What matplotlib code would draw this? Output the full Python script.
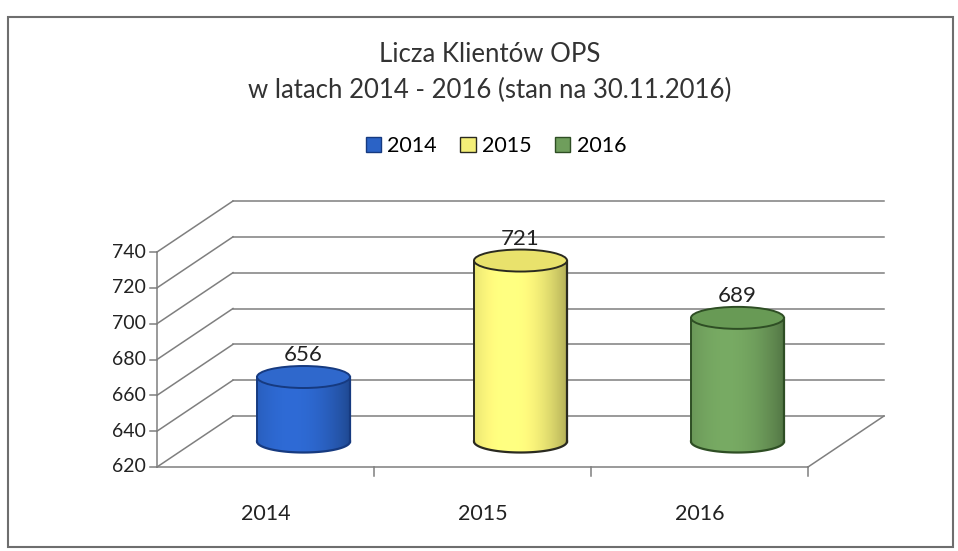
import numpy as np
import matplotlib
matplotlib.use("Agg")
import matplotlib.pyplot as plt
from matplotlib.patches import Ellipse, Patch, Rectangle, PathPatch
from matplotlib.path import Path

plt.rcParams['font.family'] = ['Lato', 'DejaVu Sans']

# dane
lata = ["2014", "2015", "2016"]
klienci = [656, 721, 689]
kolory = ["#2b63c6", "#f4ef78", "#6f9e5c"]
krawedzie = ["#163a80", "#2a2a20", "#2e4e24"]
gora = ["#2f68cc", "#e9e26c", "#689a55"]
y_ticks = [620, 640, 660, 680, 700, 720, 740]
tytul = ["Licza Klientów OPS", "w latach 2014 - 2016 (stan na 30.11.2016)"]

W, H = 958, 551
fig = plt.figure(figsize=(W / 100, H / 100), dpi=100)
ax = fig.add_axes([0, 0, 1, 1])
ax.axis("off")

# front plane in pixels -> data scale
px_cat = (808 - 157) / 3
px_val = (467 - 252) / 120
ax.set_xlim(-157 / px_cat, (W - 157) / px_cat)
ax.set_ylim(620 - (H - 467) / px_val, 620 + 467 / px_val)

DX = 76 / px_cat   # depth offset
DY = 51 / px_val
n = len(lata)
ymin = y_ticks[0]
grid = "#7f7f7f"

# siatka: ukosne linie i tylna sciana
for v in y_ticks:
    ax.plot([0, DX], [v, v + DY], color=grid, lw=1.1)
    ax.plot([DX, n + DX], [v + DY, v + DY], color=grid, lw=1.1)
    ax.plot([-0.03, 0], [v, v], color=grid, lw=1.1)
    ax.text(-0.05, v, str(v), ha="right", va="center", fontsize=14, color="#222222")
ax.plot([0, 0], [ymin, y_ticks[-1]], color=grid, lw=1.1)
ax.plot([0, n], [ymin, ymin], color=grid, lw=1.1)
ax.plot([n, n + DX], [ymin, ymin + DY], color=grid, lw=1.1)
for i in range(1, n + 1):
    ax.plot([i, i], [ymin, ymin - 5], color=grid, lw=1.1)
for i, lab in enumerate(lata):
    ax.text(i + 0.5, ymin - 26, lab, ha="center", va="center", fontsize=15.5, color="#222222")

# walce
a = 46.5 / px_cat
b = 11 / px_val
t = np.linspace(-1, 1, 200)
shade = 0.74 + 0.34 * np.clip(1 - ((t + 0.25) / 1.25) ** 2, 0, 1)
for i, v in enumerate(klienci):
    cx = i + 0.5 + DX / 2
    base = ymin + DY / 2
    top = v + DY / 2
    rgb = np.array(matplotlib.colors.to_rgb(kolory[i]))
    img = np.clip(rgb[None, :] * shade[:, None], 0, 1)[None, :, :]
    ang = np.linspace(np.pi, 2 * np.pi, 60)
    verts = [(cx + a * np.cos(q), base + b * np.sin(q)) for q in ang]
    verts += [(cx + a, top), (cx - a, top), verts[0]]
    path = Path(verts)
    clip = PathPatch(path, transform=ax.transData, facecolor="none", edgecolor="none")
    ax.add_patch(clip)
    im = ax.imshow(img, extent=[cx - a, cx + a, base - b, top], aspect="auto",
                   zorder=3, interpolation="bilinear")
    im.set_clip_path(clip)
    edge = krawedzie[i]
    ax.plot([p[0] for p in verts[:60]], [p[1] for p in verts[:60]], color=edge, lw=1.6, zorder=4)
    ax.plot([cx - a, cx - a], [base, top], color=edge, lw=1.4, zorder=4)
    ax.plot([cx + a, cx + a], [base, top], color=edge, lw=1.6, zorder=4)
    ax.add_patch(Ellipse((cx, top), 2 * a, 2 * b, facecolor=gora[i], edgecolor=edge,
                         lw=1.4, zorder=5))
    ax.text(cx, top + (b * px_val + 11) / px_val, str(v), ha="center", va="center",
            fontsize=16, color="#222222", zorder=6)

# tytul i legenda
fig.text(490 / W, 1 - 55 / H, tytul[0], ha="center", va="center", fontsize=18.5,
         color="#333333")
fig.text(490 / W, 1 - 90 / H, tytul[1], ha="center", va="center", fontsize=18.5,
         color="#333333")
uchwyty = [Patch(facecolor=kolory[i], edgecolor=krawedzie[i], label=lata[i]) for i in range(n)]
fig.legend(handles=uchwyty, loc="center", bbox_to_anchor=(496 / W, 1 - 146 / H), ncol=3,
           frameon=False, fontsize=15.5, handlelength=0.7, handleheight=0.7,
           handletextpad=0.3, columnspacing=1.1)

fig.add_artist(Rectangle((8 / W, 1 - 547 / H), 945 / W, 530 / H, transform=fig.transFigure,
                         facecolor="none", edgecolor="#6e6e6e", lw=1.5))

fig.savefig("out.png", dpi=100)
